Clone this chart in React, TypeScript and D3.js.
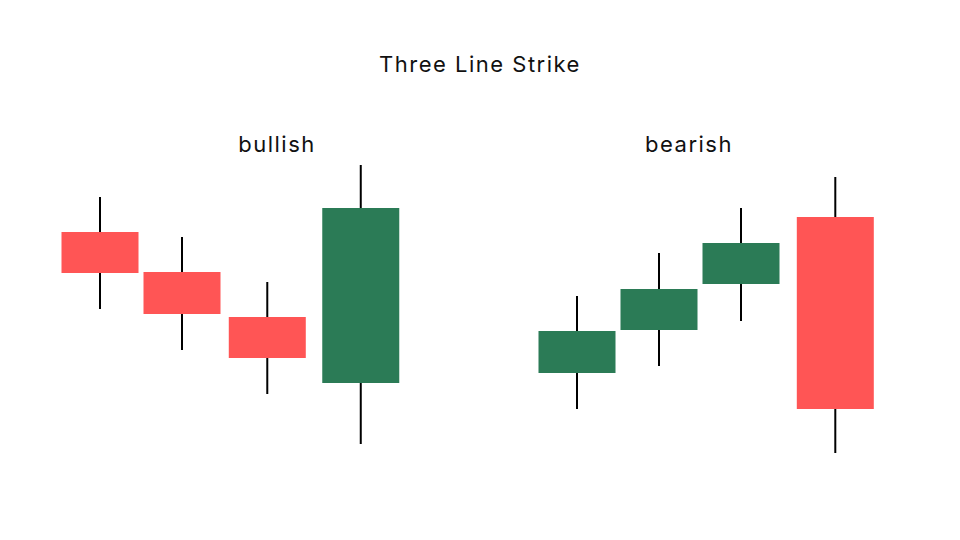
import React from 'react';
import * as d3 from 'd3';

// candle slots (x positions in slot units) and OHLC values
const bullishSlots = [0, 1, 2.04, 3.18];
const bullishOpen = [22.8, 18.8, 14.3, 7.7];
const bullishClose = [18.7, 14.6, 10.2, 25.2];
const bullishHigh = [26.3, 22.3, 17.8, 29.5];
const bullishLow = [15.1, 11.0, 6.6, 1.6];

const bearishSlots = [0, 1, 2, 3.15];
const bearishOpen = [8.7, 13.0, 17.6, 24.3];
const bearishClose = [12.9, 17.1, 21.7, 5.1];
const bearishHigh = [16.4, 20.7, 25.2, 28.3];
const bearishLow = [5.1, 9.4, 13.9, 0.7];

const UP = '#2b7b56';
const DOWN = '#ff5555';

type Candle = { slot: number; o: number; c: number; h: number; l: number };

const toCandles = (s: number[], o: number[], c: number[], h: number[], l: number[]): Candle[] =>
    s.map((v, i) => ({ slot: v, o: o[i], c: c[i], h: h[i], l: l[i] }));

const y = d3.scaleLinear().domain([0, 30]).range([460, 160]);
const bodyWidth = 77;

const Panel = ({ candles, x0, label, labelX }: { candles: Candle[]; x0: number; label: string; labelX: number }) => {
    const x = d3.scaleLinear().domain([0, 1]).range([x0, x0 + 82]);
    return (
        <g>
            <text x={labelX} y={152} textAnchor="middle" fontSize={22} letterSpacing={1.5} fill="#111">{label}</text>
            {candles.map((d, i) => {
                const cx = x(d.slot);
                const top = y(Math.max(d.o, d.c));
                const bottom = y(Math.min(d.o, d.c));
                return (
                    <g key={i}>
                        <line x1={cx} x2={cx} y1={y(d.h)} y2={y(d.l)} stroke="#000" strokeWidth={2} />
                        <rect x={cx - bodyWidth / 2} y={top} width={bodyWidth} height={bottom - top}
                              fill={d.c > d.o ? UP : DOWN} />
                    </g>
                );
            })}
        </g>
    );
};

const App = () => {
    const bullish = toCandles(bullishSlots, bullishOpen, bullishClose, bullishHigh, bullishLow);
    const bearish = toCandles(bearishSlots, bearishOpen, bearishClose, bearishHigh, bearishLow);
    return (
        <svg width={960} height={540} style={{ position: 'absolute', left: 0, top: 0, background: '#fff' }}
             fontFamily="Inter, 'Noto Sans', sans-serif">
            <text x={480} y={72} textAnchor="middle" fontSize={22} letterSpacing={1.5} fill="#111">Three Line Strike</text>
            <Panel candles={bullish} x0={100} label="bullish" labelX={277} />
            <Panel candles={bearish} x0={577} label="bearish" labelX={689} />
        </svg>
    );
};

export default App;
